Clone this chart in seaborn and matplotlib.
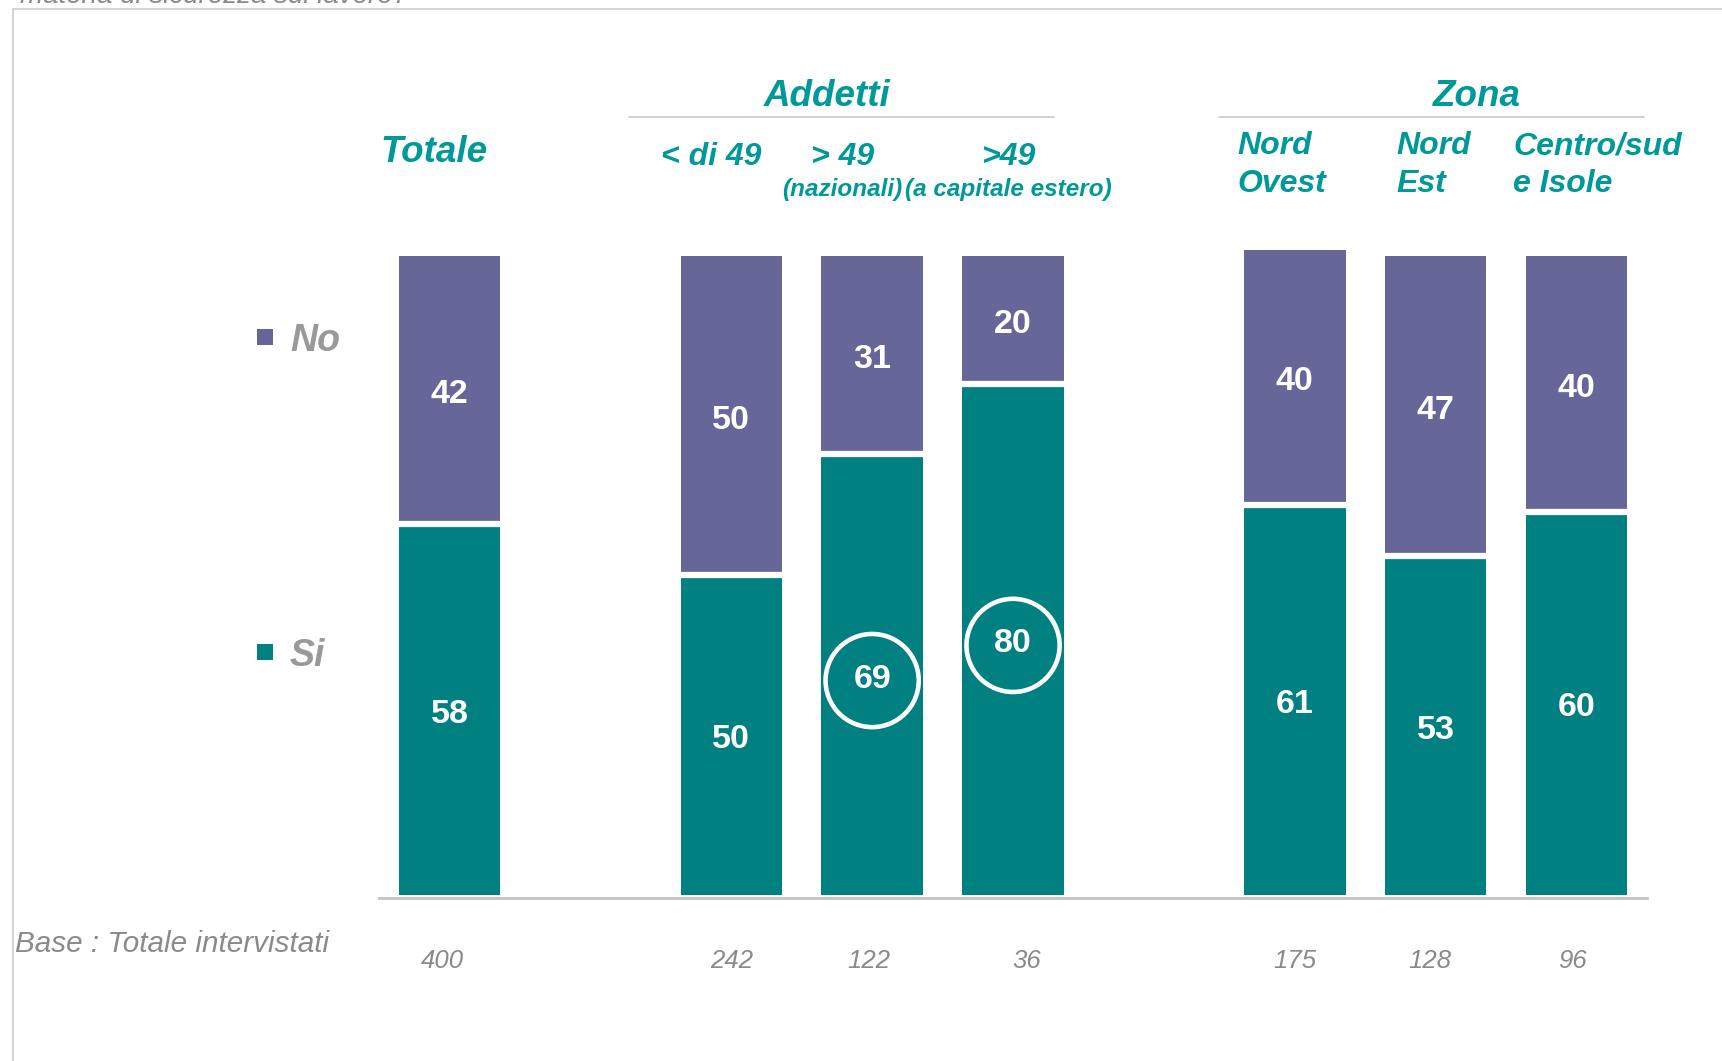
import matplotlib
matplotlib.use("Agg")
import matplotlib.pyplot as plt
import matplotlib.transforms as mtransforms
from matplotlib.patches import Rectangle
from matplotlib.lines import Line2D
import seaborn as sns
import pandas as pd
import numpy as np

# ---------------- data ----------------
categories = ["Totale", "< di 49", "> 49 naz", ">49 estero", "Nord Ovest", "Nord Est", "Centro/sud e Isole"]
positions = [0, 2, 3, 4, 6, 7, 8]
si_values = [58, 50, 69, 80, 61, 53, 60]
no_values = [42, 50, 31, 20, 40, 47, 40]
base_values = ["400", "242", "122", "36", "175", "128", "96"]
circled = [False, False, True, True, False, False, False]

TEAL = "#008080"
PURPLE = "#666699"
HEAD = "#009999"
GRAY = "#999999"

sns.set_theme(style="white")
plt.rcParams["font.family"] = ["Liberation Sans", "DejaVu Sans"]

W, H = 1722, 1061
fig = plt.figure(figsize=(W / 100, H / 100), dpi=100)

def fx(x):
    return x / W

def fy(y):
    return 1 - y / H

ax = fig.add_axes([0.2201, 0.1534, 0.7364, 0.6355])

df = pd.DataFrame({
    "pos": positions,
    "si": si_values,
    "no": no_values,
})
df["total"] = df["si"] + df["no"]

BW = 0.72
sns.barplot(data=df, x="pos", y="total", native_scale=True, width=BW,
            color=PURPLE, saturation=1, linewidth=0, ax=ax)
sns.barplot(data=df, x="pos", y="si", native_scale=True, width=BW,
            color=TEAL, saturation=1, linewidth=0, ax=ax)

# white separators between segments
ax.hlines(df["si"], df["pos"] - BW / 2, df["pos"] + BW / 2, colors="white", lw=4.5, zorder=5)

# value labels (slightly lowered, as in the original layout)
lab_tr = ax.transData + mtransforms.ScaledTranslation(0, -4.5 / 100, fig.dpi_scale_trans)
circ_tr = ax.transData + mtransforms.ScaledTranslation(0, -6 / 100, fig.dpi_scale_trans)
for p, s, n, c in zip(positions, si_values, no_values, circled):
    ax.text(p, s / 2, str(s), color="white", ha="center", va="center",
            fontsize=24.5, fontweight="bold", zorder=7, transform=lab_tr)
    ax.text(p, s + n / 2, str(n), color="white", ha="center", va="center",
            fontsize=24.5, fontweight="bold", zorder=7, transform=lab_tr)
    if c:
        ax.scatter([p], [s / 2], s=4500, facecolors="none", edgecolors="white",
                   linewidths=3.3, zorder=6, clip_on=False, transform=circ_tr)

ax.set_xlim(-0.5, 8.5)
ax.set_ylim(-0.5, 105)
ax.set_xticks([])
ax.set_yticks([])
ax.set_xlabel("")
ax.set_ylabel("")
for side in ["top", "right", "left"]:
    ax.spines[side].set_visible(False)
ax.spines["bottom"].set_color("#c4c4c4")
ax.spines["bottom"].set_linewidth(2)

# base numbers under bars
base_dx = [-7, 0, -3, 14, 0, -6, -4]  # small horizontal nudges in pixels
trans = mtransforms.blended_transform_factory(ax.transData, fig.transFigure)
for p, b, dx in zip(positions, base_values, base_dx):
    t = trans + mtransforms.ScaledTranslation(dx / 100, 0, fig.dpi_scale_trans)
    ax.text(p, fy(961), b, transform=t, ha="center", va="center",
            fontsize=18.5, fontstyle="italic", color="#8a8a8a")

fig.text(fx(15), fy(944), "Base : Totale intervistati", ha="left", va="center",
         fontsize=21.3, fontstyle="italic", color="#8a8a8a")

# headers
hk = dict(color=HEAD, fontweight="bold", fontstyle="italic")
fig.text(fx(434), fy(152), "Totale", ha="center", va="center", fontsize=26.5, **hk)
fig.text(fx(827), fy(97), "Addetti", ha="center", va="center", fontsize=26.5, **hk)
fig.text(fx(1477), fy(97), "Zona", ha="center", va="center", fontsize=26.5, **hk)
fig.add_artist(Line2D([fx(629), fx(1054)], [fy(117), fy(117)], color="#c8c8c8", lw=1.2))
fig.add_artist(Line2D([fx(1219), fx(1644)], [fy(117), fy(117)], color="#c8c8c8", lw=1.2))

fig.text(fx(711), fy(157), "< di 49", ha="center", va="center", fontsize=23, **hk)
fig.text(fx(843), fy(157), "> 49", ha="center", va="center", fontsize=23, **hk)
fig.text(fx(1008), fy(157), ">49", ha="center", va="center", fontsize=23, **hk)
fig.text(fx(842), fy(189), "(nazionali)", ha="center", va="center", fontsize=17.5, **hk)
fig.text(fx(1008), fy(189), "(a capitale estero)", ha="center", va="center", fontsize=17.5, **hk)

fig.text(fx(1237), fy(165), "Nord\nOvest", ha="left", va="center", fontsize=23, linespacing=1.33, **hk)
fig.text(fx(1396), fy(165), "Nord\nEst", ha="left", va="center", fontsize=23, linespacing=1.33, **hk)
fig.text(fx(1513), fy(165), "Centro/sud\ne Isole", ha="left", va="center", fontsize=23, linespacing=1.33, **hk)

# legend
for label, col, yc in [("No", PURPLE, 337), ("Si", TEAL, 652)]:
    fig.add_artist(Rectangle((fx(257), fy(yc + 8)), 16 / W, 16 / H, facecolor=col, edgecolor="none"))
    fig.text(fx(290), fy(yc + 4.5), label, ha="left", va="center", fontsize=27,
             fontweight="bold", fontstyle="italic", color=GRAY)

# frame lines and cut-off title
fig.add_artist(Line2D([fx(13), 1], [fy(9), fy(9)], color="#cccccc", lw=1.2))
fig.add_artist(Line2D([fx(13), fx(13)], [fy(9), 0], color="#cccccc", lw=1.2))
fig.text(fx(20), fy(3), "materia di sicurezza sul lavoro?", ha="left", va="baseline",
         fontsize=20, fontstyle="italic", color="#8a8a8a")

fig.savefig("out.png", dpi=100, facecolor="white")
